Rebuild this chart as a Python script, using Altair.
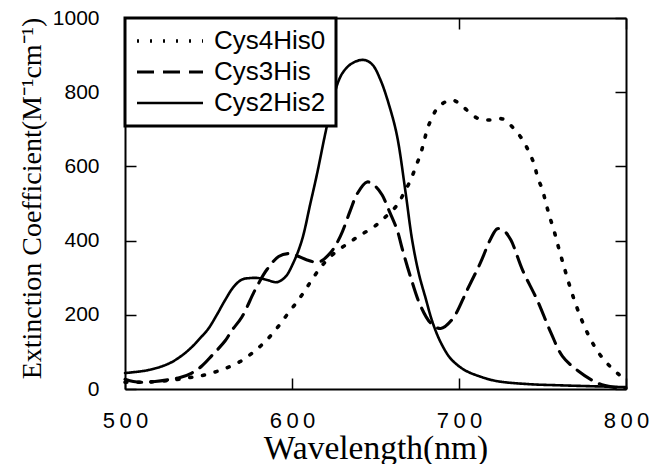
import altair as alt
import pandas as pd

series_names = ["Cys4His0", "Cys3His", "Cys2His2"]

# Cys4His0 (dotted)
wl_c4 = [500, 515, 530, 539, 546, 554, 561, 569, 577, 584, 591, 597, 603, 608, 613,
         619, 625, 634, 641, 649, 656, 663, 667, 671, 674, 677, 679, 681, 684, 688,
         696, 703, 711, 718, 726, 732, 738, 742, 745, 747, 750, 752, 754, 757, 760,
         763, 766, 769, 772, 775, 779, 784, 790, 796, 800]
ext_c4 = [18, 19, 25, 31, 36, 46, 57, 74, 100, 128, 164, 200, 235, 267, 302,
          338, 365, 394, 415, 437, 464, 496, 528, 563, 598, 634, 666, 700, 733, 762,
          779, 758, 730, 725, 728, 706, 672, 638, 606, 572, 536, 502, 469, 425, 375,
          328, 282, 240, 203, 170, 132, 95, 63, 38, 25]

# Cys3His (dashed)
wl_c3 = [500, 505, 510, 518, 526, 533, 540, 546, 552, 560, 564, 570, 578, 585, 592,
         598, 603, 609, 616, 623, 629, 635, 639, 645, 650, 654, 658, 663, 666, 671,
         677, 683, 689, 696, 705, 713, 719, 723, 727, 731, 738, 747, 755, 762, 771,
         783, 792, 800]
ext_c3 = [26, 20, 18, 20, 25, 31, 43, 62, 90, 130, 158, 194, 268, 322, 357,
          365, 359, 348, 342, 367, 412, 482, 526, 558, 546, 523, 482, 428, 378, 302,
          224, 178, 163, 188, 268, 342, 405, 432, 426, 402, 321, 238, 152, 88, 50,
          16, 5, 2]

# Cys2His2 (solid)
wl_c2 = [500, 514, 526, 534, 540, 545, 550, 555, 560, 565, 570, 575, 580, 585, 591,
         596, 601, 606, 611, 615, 620, 625, 630, 636, 643, 648, 653, 659, 663, 668,
         672, 676, 680, 684, 689, 695, 703, 713, 723, 742, 760, 783, 800]
ext_c2 = [43, 51, 68, 90, 113, 137, 163, 200, 240, 275, 295, 299, 299, 294, 288,
          302, 342, 402, 500, 580, 690, 790, 850, 878, 887, 875, 833, 752, 680, 530,
          400, 310, 245, 182, 126, 82, 52, 33, 21, 13, 10, 7, 5]

x_ticks = [500, 600, 700, 800]
y_ticks = [0, 200, 400, 600, 800, 1000]

rows = []
for name, xs, ys in [("Cys4His0", wl_c4, ext_c4), ("Cys3His", wl_c3, ext_c3), ("Cys2His2", wl_c2, ext_c2)]:
    for a, b in zip(xs, ys):
        rows.append({"series": name, "wl": a, "ext": b})
df = pd.DataFrame(rows)

W, H = 501, 371

x_scale = alt.Scale(domain=[500, 800], nice=False, zero=False)
y_scale = alt.Scale(domain=[0, 1000], nice=False, zero=False)

tick_style = dict(tickSize=11, tickWidth=1.5, tickColor="black",
                  domainColor="black", domainWidth=2, grid=False)

lines = alt.Chart(df).mark_line(
    color="black", interpolate="catmull-rom", strokeCap="round"
).encode(
    x=alt.X("wl:Q", scale=x_scale,
            axis=alt.Axis(orient="bottom", offset=-H, values=x_ticks, labels=False,
                          title=None, **tick_style)),
    y=alt.Y("ext:Q", scale=y_scale,
            axis=alt.Axis(orient="left", offset=-W, values=y_ticks, labels=False,
                          title=None, **tick_style)),
    strokeDash=alt.StrokeDash(
        "series:N",
        scale=alt.Scale(domain=series_names, range=[[2, 11], [17, 9], [1, 0]]),
        legend=alt.Legend(
            title=None, orient="top-left", offset=0, padding=10,
            strokeColor="black", fillColor="white",
            symbolType="M-1,0H5", symbolSize=484, symbolStrokeWidth=2.2,
            symbolStrokeColor="black",
            labelFont="Liberation Sans", labelFontSize=26, labelColor="black",
            labelOffset=53, rowPadding=5, labelLimit=300,
        ),
    ),
    strokeWidth=alt.StrokeWidth(
        "series:N",
        scale=alt.Scale(domain=series_names, range=[3.6, 2.6, 2.4]),
        legend=None,
    ),
)

frame = alt.Chart(df).mark_line(opacity=0).encode(
    x=alt.X("wl:Q", scale=x_scale,
            axis=alt.Axis(orient="top", offset=-H, values=x_ticks,
                          labelBaseline="top", labelPadding=-32, labelAlign="center",
                          labelFont="Liberation Sans", labelFontSize=22, labelColor="black",
                          labelExpr="join(split(datum.label, ''), '\u2009')",
                          labelFlush=False, labelOverlap=False,
                          title="Wavelength(nm)", titleFont="Liberation Serif",
                          titleFontSize=33.5, titleFontWeight="normal", titleColor="black",
                          titleX=W / 2, titleY=69, titleBaseline="alphabetic",
                          titleAlign="center", titleAngle=0,
                          **tick_style)),
    y=alt.Y("ext:Q", scale=y_scale,
            axis=alt.Axis(orient="right", offset=-W, values=y_ticks, format="d",
                          labelAlign="right", labelPadding=-37, labelBaseline="middle",
                          labelFont="Liberation Sans", labelFontSize=21, labelColor="black",
                          labelFlush=False, labelOverlap=False,
                          title="Extinction Coefficient(M\u207b\u00b9cm\u207b\u00b9)",
                          titleFont="Liberation Serif", titleFontSize=28,
                          titleFontWeight="normal", titleColor="black",
                          titleAngle=270, titleX=-85, titleY=180,
                          titleBaseline="alphabetic", titleAlign="center",
                          **tick_style)),
    detail="series:N",
)

chart = alt.layer(lines, frame).resolve_scale(
    x="independent", y="independent"
).properties(
    width=W, height=H,
    autosize=alt.AutoSizeParams(type="none"),
    padding={"left": 125, "top": 18, "right": 29, "bottom": 75},
    background="white",
).configure_view(strokeWidth=0).configure_legend(strokeWidth=3)

chart.save("out.html", embed_options={"renderer": "svg", "actions": False})
